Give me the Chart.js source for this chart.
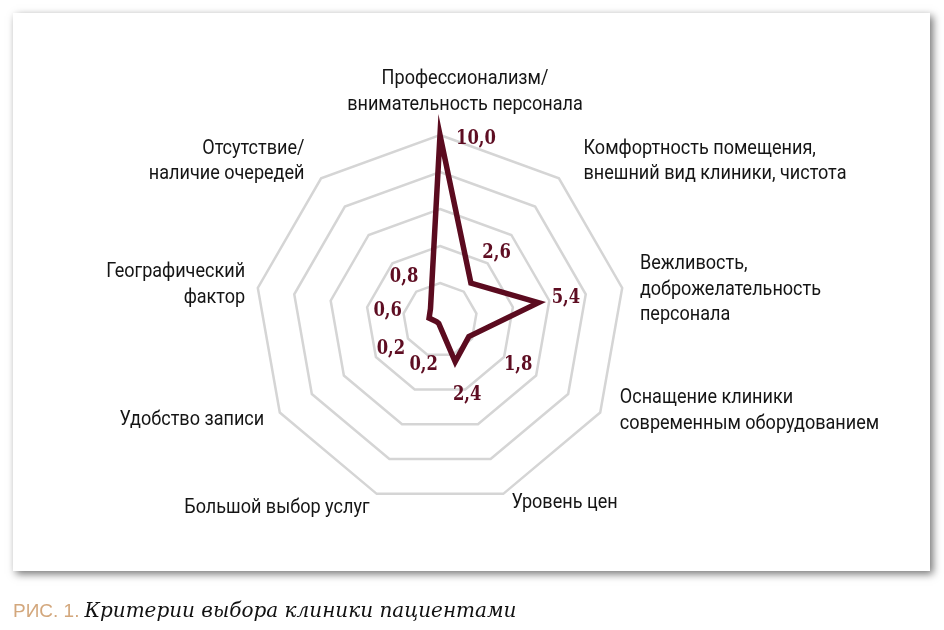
<!DOCTYPE html>
<html lang="ru">
<head>
<meta charset="utf-8">
<script src="https://cdn.jsdelivr.net/npm/chart.js@4"></script>
<style>
  html, body { margin: 0; padding: 0; background: #fff; }
  #page { position: relative; width: 944px; height: 630px; overflow: hidden; }
  #card {
    position: absolute; left: 13px; top: 13px; width: 917px; height: 558px;
    background: #fff; box-shadow: 3px 3px 8px rgba(0, 0, 0, 0.55);
  }
  #wrap { position: absolute; left: 0; top: 0; width: 944px; height: 630px; }
  #caption {
    position: absolute; left: 13px; top: 596px; white-space: nowrap;
    font-size: 20px; line-height: 28px;
  }
  #caption .num { font-family: "Liberation Sans", Arial, sans-serif; color: #d3a77c; font-size: 19px; }
  #caption .title { font-family: "DejaVu Serif", serif; font-style: italic; color: #111; }
</style>
</head>
<body>
<div id="page">
  <div id="card"></div>
  <div id="wrap"><canvas id="radarChart"></canvas></div>
  <div id="caption"><span class="num">РИС. 1.</span> <span class="title">Критерии выбора клиники пациентами</span></div>
</div>
<script>
const criteria = [
  ['Профессионализм/', 'внимательность персонала'],
  ['Комфортность помещения,', 'внешний вид клиники, чистота'],
  ['Вежливость,', 'доброжелательность', 'персонала'],
  ['Оснащение клиники', 'современным оборудованием'],
  ['Уровень цен'],
  ['Большой выбор услуг'],
  ['Удобство записи'],
  ['Географический', 'фактор'],
  ['Отсутствие/', 'наличие очередей']
];
const scores = [10.0, 2.6, 5.4, 1.8, 2.4, 0.2, 0.2, 0.6, 0.8];
const scaleMax = 10;
const scaleStep = 2;

const lineColor = '#5b0b1f';

// label placement tweaks, tuned by eye
const valueGap = [0, 40, 28, 57, 35, 44, 53, 42, 41];
const labelNudge = [[25, 0], [13, -3], [0, 5], [4, -11], [2, -8], [-1, -3], [0, -2], [5, 0], [-5, -3]];

const fmt = v => v.toFixed(1).replace('.', ',');

// no condensed face installed, so squeeze the text horizontally
function squeezedText(ctx, text, x, y, align, sx) {
  const w = ctx.measureText(text).width * sx;
  let left = x;
  if (align === 'center') left = x - w / 2;
  else if (align === 'right') left = x - w;
  ctx.save();
  ctx.translate(left, y);
  ctx.scale(sx, 1);
  ctx.textAlign = 'left';
  ctx.fillText(text, 0, 0);
  ctx.restore();
}

const labelsPlugin = {
  id: 'labelsPlugin',
  afterDatasetsDraw(chart) {
    const ctx = chart.ctx;
    const scale = chart.scales.r;

    // category labels
    ctx.save();
    ctx.fillStyle = '#151515';
    ctx.font = '21px Roboto, "Liberation Sans", sans-serif';
    ctx.textBaseline = 'middle';
    const lh = 25.5;
    criteria.forEach((lines, i) => {
      const angle = scale.getIndexAngle(i);
      const pos = scale.getPointPosition(i, scale.drawingArea + 18);
      const s = Math.sin(angle);
      const x = pos.x + labelNudge[i][0];
      let align;
      if (Math.abs(s) < 0.05) align = 'center';
      else align = s > 0 ? 'left' : 'right';
      let y0;
      if (i === 0) {
        y0 = pos.y - (lines.length - 0.5) * lh;
      } else {
        y0 = pos.y - (lines.length - 1) * lh / 2;
      }
      y0 += labelNudge[i][1];
      lines.forEach((t, k) => squeezedText(ctx, t, x, y0 + k * lh, align, 0.86));
    });
    ctx.restore();

    // value labels
    ctx.save();
    ctx.fillStyle = '#5e0d22';
    ctx.font = 'bold 20px "DejaVu Serif", serif';
    ctx.textBaseline = 'middle';
    scores.forEach((v, i) => {
      const d = scale.getDistanceFromCenterForValue(v);
      if (v === scaleMax) {
        const p = scale.getPointPosition(i, d);
        squeezedText(ctx, fmt(v), p.x + 16, p.y + 4, 'left', 0.82);
      } else {
        const p = scale.getPointPosition(i, d + valueGap[i]);
        squeezedText(ctx, fmt(v), p.x, p.y, 'center', 0.82);
      }
    });
    ctx.restore();
  }
};

new Chart(document.getElementById('radarChart'), {
  type: 'radar',
  data: {
    labels: criteria,
    datasets: [{
      data: scores,
      borderColor: lineColor,
      borderWidth: 5.5,
      borderJoinStyle: 'miter',
      fill: false,
      pointRadius: 0,
      pointHoverRadius: 0,
      tension: 0
    }]
  },
  options: {
    responsive: true,
    maintainAspectRatio: false,
    animation: false,
    layout: { padding: { left: 255, right: 319, top: 135, bottom: 125 } },
    plugins: { legend: { display: false }, tooltip: { enabled: false } },
    scales: {
      r: {
        min: 0,
        max: scaleMax,
        ticks: { display: false, stepSize: scaleStep },
        angleLines: { display: false },
        grid: { color: '#d5d5d5', lineWidth: 2.5, circular: false },
        pointLabels: { display: false }
      }
    }
  },
  plugins: [labelsPlugin]
});
</script>
</body>
</html>
